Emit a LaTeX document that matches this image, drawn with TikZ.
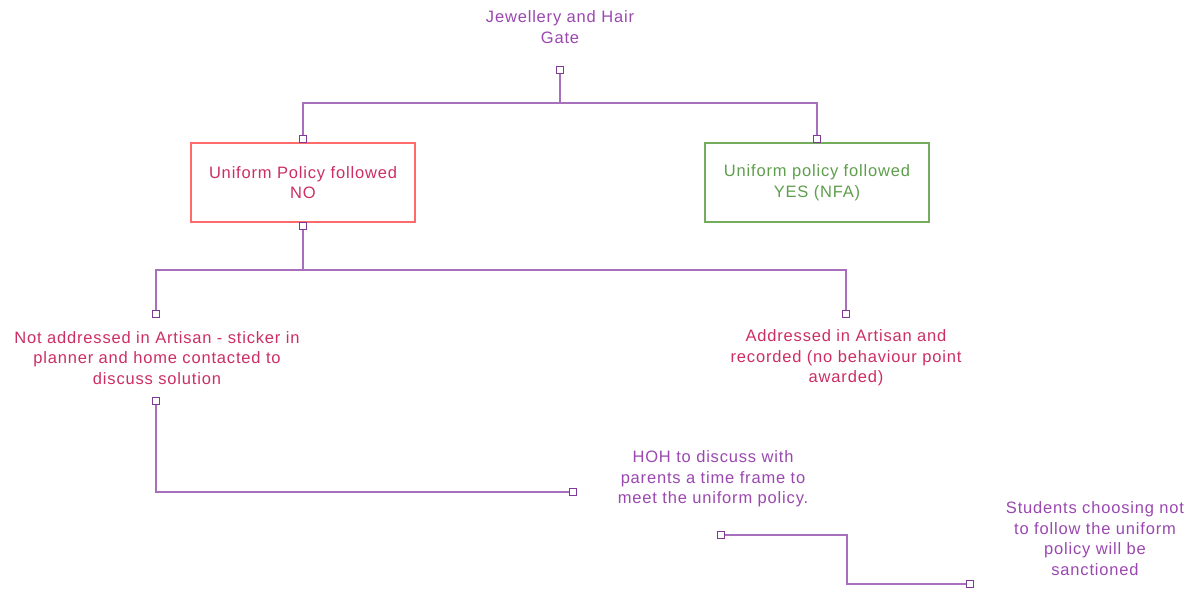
\documentclass[tikz,border=0pt]{standalone}
\usepackage{fontspec}
\setmainfont[LetterSpace=5]{Liberation Sans}
\definecolor{gatepurple}{HTML}{9A48B0}
\definecolor{linepurple}{HTML}{A870BC}
\definecolor{portpurple}{HTML}{7E3A94}
\definecolor{nored}{HTML}{CC2E63}
\definecolor{noborder}{HTML}{FF6A6A}
\definecolor{yesgreen}{HTML}{5E9E4C}
\definecolor{yesborder}{HTML}{72AC5C}
\begin{document}
\begin{tikzpicture}[x=1pt,y=-1pt]
        \tikzstyle{port}=[rectangle,draw=portpurple,fill=white,line width=1.3pt,inner sep=0pt,minimum size=7.5pt]
        \tikzstyle{edge}=[draw=linepurple,line width=1.3pt]
        \tikzstyle{txt}=[align=center,font=\fontsize{16.5}{20.5}\selectfont]
        \tikzstyle{outcome}=[rectangle,line width=1.2pt,minimum width=224pt,minimum height=79pt,align=center,font=\fontsize{16.5}{20.5}\selectfont]
       \useasboundingbox (0,0) rectangle (1198,589);
       \begin{scope}
         % gate
         \node [txt,text=gatepurple] (gate) at (560,27) {Jewellery and Hair\\Gate};
         \node [port] (g0) at (560,70) {};
         % first split
         \node [outcome,draw=noborder,text=nored] (no) at (303,182.5) {Uniform Policy followed\\NO};
         \node [outcome,draw=yesborder,text=yesgreen] (yes) at (817,182.5) {Uniform policy followed\\YES (NFA)};
         \node [port] (noin) at (303,139) {};
         \node [port] (yesin) at (817,139) {};
         \node [port] (noout) at (303,226) {};
         % second split
         \node [port] (notin) at (156,314) {};
         \node [txt,text=nored] (notaddr) at (157,358) {Not addressed in Artisan - sticker in\\planner and home contacted to\\discuss solution};
         \node [port] (notout) at (156,401) {};
         \node [port] (addrin) at (846,314) {};
         \node [txt,text=nored] (addr) at (846,358) {Addressed in Artisan and\\recorded (no behaviour point\\awarded)};
         % follow up
         \node [port] (hohin) at (573,492) {};
         \node [txt,text=gatepurple] (hoh) at (713,479) {HOH to discuss with\\parents a time frame to\\meet the uniform policy.};
         \node [port] (hohout) at (721,535) {};
         \coordinate (bend) at (847,535);
         \node [port] (sancin) at (970,584) {};
         \node [txt,text=gatepurple] (sanc) at (1095,538.5) {Students choosing not\\to follow the uniform\\policy will be\\sanctioned};
         \coordinate (split1) at (560,103);
         \coordinate (split2) at (303,270);
         % connectors
         \path[edge] (g0) -- (split1);
         \path[edge] (split1) -| (noin);
         \path[edge] (split1) -| (yesin);
         \path[edge] (noout) -- (split2);
         \path[edge] (split2) -| (notin);
         \path[edge] (split2) -| (addrin);
         \path[edge] (notout) |- (hohin);
         \path[edge] (hohout) -- (bend) |- (sancin);
         % redraw ports on top
         \foreach \p in {g0,noin,yesin,noout,notin,notout,addrin,hohin,hohout,sancin}
           \node [port] at (\p) {};
        \end{scope}
      \end{tikzpicture}
\end{document}
